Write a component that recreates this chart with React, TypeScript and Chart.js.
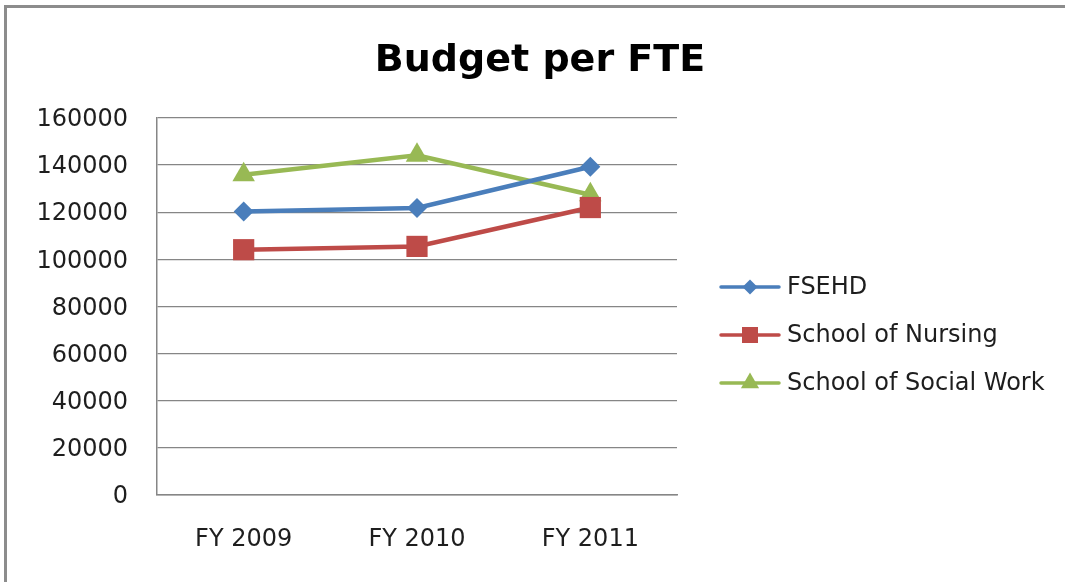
import React, { useEffect, useRef } from "react";
import { Chart, registerables } from "chart.js";

Chart.register(...registerables);

const categories = ["FY 2009", "FY 2010", "FY 2011"];
const seriesNames = ["FSEHD", "School of Nursing", "School of Social Work"];
const fsehd = [120300, 121800, 139300];
const nursing = [104100, 105500, 122000];
const socialWork = [135900, 144200, 127400];
const yTicks = [0, 20000, 40000, 60000, 80000, 100000, 120000, 140000, 160000];
const titleText = "Budget per FTE";

const W = 1065;
const H = 582;
const FONT = "'DejaVu Sans', sans-serif";

function drawMarker(ctx: CanvasRenderingContext2D, style: string, x: number, y: number, r: number, color: string) {
  ctx.save();
  ctx.fillStyle = color;
  ctx.beginPath();
  if (style === "rectRot") {
    ctx.moveTo(x, y - r);
    ctx.lineTo(x + r, y);
    ctx.lineTo(x, y + r);
    ctx.lineTo(x - r, y);
    ctx.closePath();
  } else if (style === "rect") {
    ctx.rect(x - r, y - r, 2 * r, 2 * r);
  } else {
    const s = r * Math.sin(Math.PI / 3);
    ctx.moveTo(x, y - r);
    ctx.lineTo(x + s, y + r / 2);
    ctx.lineTo(x - s, y + r / 2);
    ctx.closePath();
  }
  ctx.fill();
  ctx.restore();
}

const framePlugin = {
  id: "frame",
  beforeDraw(chart: any) {
    const ctx = chart.ctx;
    ctx.save();
    ctx.fillStyle = "#ffffff";
    ctx.fillRect(0, 0, W, H);
    ctx.fillStyle = "#8c8c8c";
    ctx.fillRect(4, 5, 3, H - 5);
    ctx.fillRect(4, 5, W - 4, 3);
    ctx.restore();
  },
  afterDraw(chart: any) {
    const ctx = chart.ctx;
    ctx.save();
    ctx.fillStyle = "#000000";
    ctx.font = `bold 38px ${FONT}`;
    ctx.textAlign = "center";
    ctx.textBaseline = "alphabetic";
    ctx.fillText(titleText, 540, 71);
    ctx.restore();
  },
};

const legendRadii = [7.5, 8, 10.5];
const legendPlugin = {
  id: "excelLegend",
  afterDraw(chart: any) {
    const ctx = chart.ctx;
    const rows = [287, 335, 383];
    chart.data.datasets.forEach((ds: any, i: number) => {
      const y = rows[i];
      ctx.save();
      ctx.strokeStyle = ds.borderColor;
      ctx.lineWidth = 3.5;
      ctx.lineCap = "round";
      ctx.beginPath();
      ctx.moveTo(721, y);
      ctx.lineTo(779, y);
      ctx.stroke();
      ctx.restore();
      drawMarker(ctx, ds.pointStyle, 750, y, legendRadii[i], ds.backgroundColor);
      ctx.save();
      ctx.fillStyle = "#1e1e1e";
      ctx.font = `24px ${FONT}`;
      ctx.textBaseline = "middle";
      ctx.textAlign = "left";
      ctx.fillText(ds.label, 787, y + 1);
      ctx.restore();
    });
  },
};

export default function App() {
  const ref = useRef<HTMLCanvasElement | null>(null);
  useEffect(() => {
    if (!ref.current) return;
    const mk = (label: string, data: number[], color: string, style: string, r: number) => ({
      label,
      data,
      borderColor: color,
      backgroundColor: color,
      borderWidth: 4.5,
      pointStyle: style,
      pointRadius: r,
      pointHoverRadius: r,
      pointBorderWidth: 0,
      pointBackgroundColor: color,
      tension: 0,
    });
    const chart = new Chart(ref.current, {
      type: "line",
      data: {
        labels: categories,
        datasets: [
          mk(seriesNames[0], fsehd, "#4A7EBB", "rectRot", 10),
          mk(seriesNames[1], nursing, "#BE4B48", "rect", 15),
          mk(seriesNames[2], socialWork, "#98B954", "triangle", 13),
        ],
      },
      options: {
        animation: false,
        responsive: false,
        devicePixelRatio: 1,
        layout: { padding: { left: 0, right: W - 677, top: 118, bottom: 0 } },
        plugins: {
          legend: { display: false },
          tooltip: { enabled: false },
          title: { display: false },
        },
        scales: {
          x: {
            offset: true,
            grid: { display: false, drawTicks: false },
            border: { display: true, color: "#868686", width: 1.5 },
            ticks: { color: "#1e1e1e", font: { family: FONT, size: 24 }, padding: 30, maxRotation: 0 },
            afterFit(scale: any) {
              scale.height = H - 495;
            },
          },
          y: {
            min: 0,
            max: 160000,
            afterBuildTicks(scale: any) {
              scale.ticks = yTicks.map((v) => ({ value: v }));
            },
            grid: { color: "#868686", lineWidth: 1.3, drawTicks: false },
            border: { display: true, color: "#868686", width: 1.5 },
            ticks: {
              color: "#1e1e1e",
              font: { family: FONT, size: 24 },
              padding: 29,
              labelOffset: 2,
              callback: (v: any) => String(v),
            },
            afterFit(scale: any) {
              scale.width = 157;
            },
          },
        },
      },
      plugins: [framePlugin, legendPlugin],
    } as any);
    return () => chart.destroy();
  }, []);
  return (
    <div style={{ position: "absolute", left: 0, top: 0, width: W, height: H, background: "#fff" }}>
      <canvas ref={ref} width={W} height={H} style={{ width: W, height: H, display: "block" }} />
    </div>
  );
}
